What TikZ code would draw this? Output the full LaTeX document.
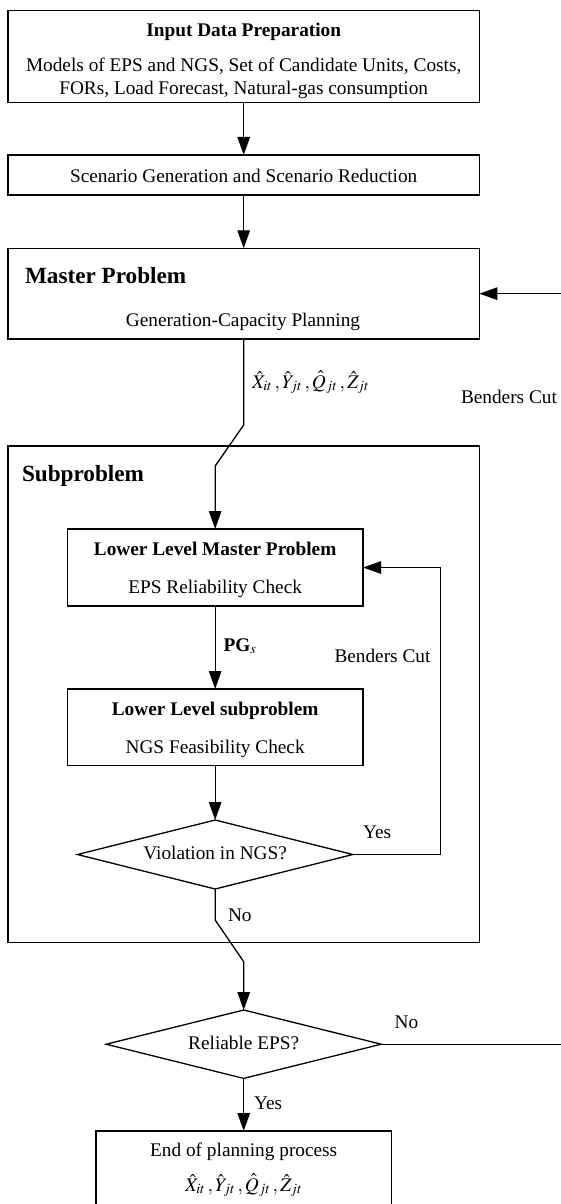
\documentclass[tikz,border=0pt]{standalone}
\usepackage{mathptmx}
\usepackage{fontspec}
\setmainfont{Liberation Serif}
\usetikzlibrary{arrows.meta,shapes.geometric}

% decision variables passed from the master problem
\newcommand{\planvars}{$\hat{X}_{it}\,, \hat{Y}_{jt}\,, \hat{Q}_{jt}\,, \hat{Z}_{jt}$}

\begin{document}
\begin{tikzpicture}[x=1pt,y=-1pt,
  every node/.style={inner sep=0pt, outer sep=0pt},
  box/.style={draw, line width=1.3pt, rectangle},
  decision/.style={draw, line width=1.3pt, diamond},
  txt/.style={anchor=base, font=\fontsize{19.3}{23}\selectfont},
  txtl/.style={anchor=base west, font=\fontsize{19.3}{23}\selectfont},
  ttl/.style={anchor=base, font=\fontsize{19.3}{23}\selectfont\bfseries},
  bigttl/.style={anchor=base west, font=\fontsize{23.2}{27}\selectfont\bfseries},
  flow/.style={line width=1.3pt, -{Triangle[length=18pt,width=12.5pt]}},
  wire/.style={line width=1.3pt},
]
\useasboundingbox (0,0) rectangle (561,1204);
\clip (0,0) rectangle (561,1204);

% ---- boxes ----
\node[box, minimum width=471.4pt, minimum height=91.6pt] (input) at (243.7,56.5) {};
\node[box, minimum width=471.4pt, minimum height=40pt] (scen) at (243.7,175) {};
\node[box, minimum width=471.4pt, minimum height=90.7pt] (master) at (243.7,293.65) {};
\node[box, minimum width=471.4pt, minimum height=496.7pt] (sub) at (243.7,694.35) {};
\node[box, minimum width=295.7pt, minimum height=77pt] (llmp) at (215.15,567.5) {};
\node[box, minimum width=295.7pt, minimum height=76.7pt] (lls) at (215.15,727.35) {};
\node[decision, minimum width=275.4pt, minimum height=69pt] (viol) at (215.15,854.5) {};
\node[decision, minimum width=275pt, minimum height=68.4pt] (rel) at (243.7,1044.2) {};
\node[box, minimum width=295.7pt, minimum height=100pt] (final) at (243.7,1181) {};

% ---- texts ----
\node[ttl] (tinput) at (243.7,36.5) {Input Data Preparation};
\node[txt] (tinputa) at (243.7,72) {Models of EPS and NGS, Set of Candidate Units, Costs,};
\node[txt] (tinputb) at (243.7,94.5) {FORs, Load Forecast, Natural-gas consumption};
\node[txt] (tscen) at (243.7,182.5) {Scenario Generation and Scenario Reduction};
\node[bigttl] (tmaster) at (25,283.5) {Master Problem};
\node[txt] (tmastera) at (243,326) {Generation-Capacity Planning};
\node[txtl] (tvars) at (252,388) {\planvars};
\node[txtl] (tcutout) at (461,403) {Benders Cut};
\node[bigttl] (tsub) at (22,481.5) {Subproblem};
\node[ttl] (tllmp) at (215.15,555) {Lower Level Master Problem};
\node[txt] (tllmpa) at (215.15,593) {EPS Reliability Check};
\node[txtl] (tpg) at (223.6,651) {\textbf{PG}$_{s}$};
\node[txtl] (tcutin) at (334.5,662.5) {Benders Cut};
\node[ttl] (tlls) at (215.15,715) {Lower Level subproblem};
\node[txt] (tllsa) at (215.15,753) {NGS Feasibility Check};
\node[txt] (tviol) at (215.15,859.5) {Violation in NGS?};
\node[txtl] (tyesa) at (363,838) {Yes};
\node[txtl] (tnoa) at (228,921.5) {No};
\node[txt] (trel) at (243.7,1049.5) {Reliable EPS?};
\node[txtl] (tnob) at (394.6,1028) {No};
\node[txtl] (tyesb) at (254,1109) {Yes};
\node[txt] (tfinal) at (243.7,1156.7) {End of planning process};
\node[txt] (tfinala) at (243.7,1191) {\planvars};

% ---- helper points ----
\coordinate (bendA) at (243.7,425);
\coordinate (bendB) at (215.15,466);
\coordinate (loopR) at (440.8,854.5);
\coordinate (loopT) at (440.8,567.5);
\coordinate (bendC) at (215.15,920);
\coordinate (bendD) at (243.7,961.7);
\coordinate (cutIn) at (561,293.65);
\coordinate (cutOut) at (561,1044.2);

% ---- connectors ----
\draw[flow] (input.south) -- (scen.north);
\draw[flow] (scen.south) -- (master.north);
\draw[flow] (master.south) -- (bendA) -- (bendB) -- (llmp.north);
\draw[flow] (llmp.south) -- (lls.north);
\draw[flow] (lls.south) -- (viol.north);
\draw[flow] (viol.east) -- (loopR) -- (loopT) -- (llmp.east);
\draw[flow] (viol.south) -- (bendC) -- (bendD) -- (rel.north);
\draw[flow] (rel.south) -- (final.north);
\draw[wire] (rel.east) -- (cutOut);
\draw[flow] (cutIn) -- (master.east);
\end{tikzpicture}
\end{document}
